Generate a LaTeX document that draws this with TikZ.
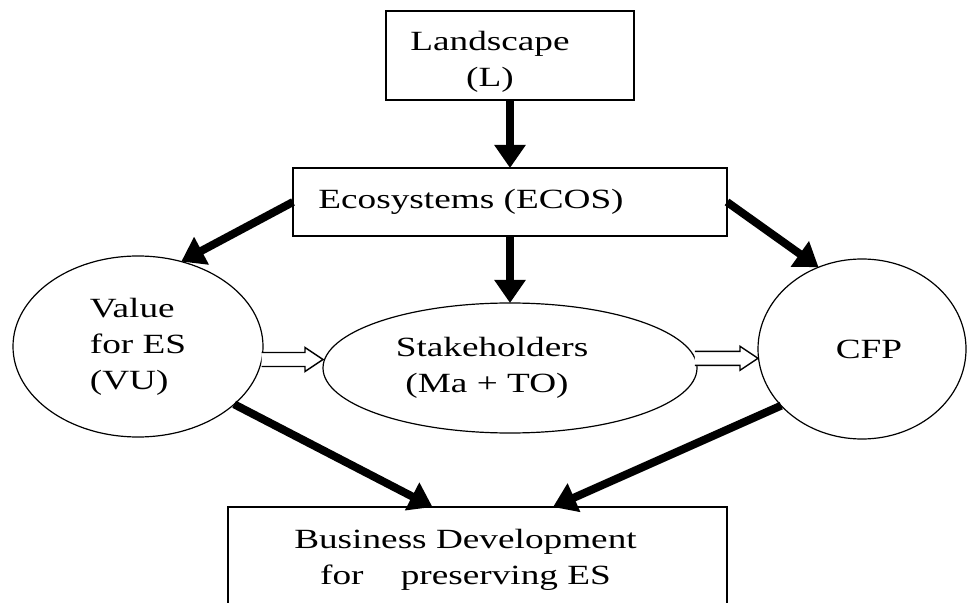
\documentclass[tikz,border=0pt]{standalone}
\usepackage{fontspec}
\setmainfont[FakeStretch=1.34]{Liberation Serif}
\usetikzlibrary{arrows.meta,calc,shapes.geometric}
\newcommand{\hollowarrow}[2]{%
    \coordinate (ha) at (#1);
    \coordinate (hb) at (#2 |- ha);
    \filldraw[hollow] (ha) ++(0,7) -- ($(hb)+(-18,7)$) -- ($(hb)+(-18,12)$) -- (hb)
        -- ($(hb)+(-18,-12)$) -- ($(hb)+(-18,-7)$) -- ($(ha)+(0,-7)$);}
\begin{document}
\begin{tikzpicture}[x=0.5pt,y=0.5pt,
    every node/.style={font=\fontsize{13.9}{18}\selectfont,inner sep=0pt,outer sep=0pt},
    boxnode/.style={draw,line width=0.7pt,rectangle,align=center},
    roundnode/.style={draw,line width=0.6pt,ellipse,align=center},
    bigarrow/.style={line width=4pt,-{Triangle[length=11.5pt,width=15pt]}},
    hollow/.style={line width=0.7pt,fill=white}]
    \clip (0,0) rectangle (967,-603);
    \fill[white] (0,0) rectangle (967,-603);
    \node[boxnode,minimum width=124pt,minimum height=44.5pt] (land) at (510,-55.5) {\rule{0pt}{16pt}Landscape\hspace*{20pt}\\(L)\hspace*{20pt}};
    \node[boxnode,minimum width=217pt,minimum height=34pt] (eco) at (510,-202) {Ecosystems (ECOS)\hspace*{39pt}};
    \node[roundnode,align=left,minimum width=125pt,minimum height=90.5pt] (vu) at (138,-346.5) {Value\\for ES\hspace*{23pt}\\(VU)};
    \node[roundnode,minimum width=187pt,minimum height=65pt] (st) at (510,-368) {Stakeholders\hspace*{18pt}\\(Ma + TO)\hspace*{23pt}};
    \node[roundnode,minimum width=104pt,minimum height=90pt] (cfp) at (862,-349) {\hspace*{7pt}CFP};
    \node[boxnode,minimum width=249.5pt,minimum height=52.5pt] (bd) at (477.5,-559.5) {Business Development\hspace*{12pt}\\for\ \ \ \ preserving ES\hspace*{12pt}};
    \draw[bigarrow] (land) -- (eco);
    \draw[bigarrow] (eco) -- (st);
    \draw[bigarrow] (eco.west) -- (vu.63);
    \draw[bigarrow] (eco.east) -- (cfp.118);
    \draw[bigarrow] (vu.-31) -- ([xshift=-22.5pt]bd.north);
    \draw[bigarrow] (cfp.215) -- ([xshift=37.75pt]bd.north);
    \hollowarrow{vu.-6}{st.west}
    \hollowarrow{st.3}{cfp.west}
\end{tikzpicture}
\end{document}
